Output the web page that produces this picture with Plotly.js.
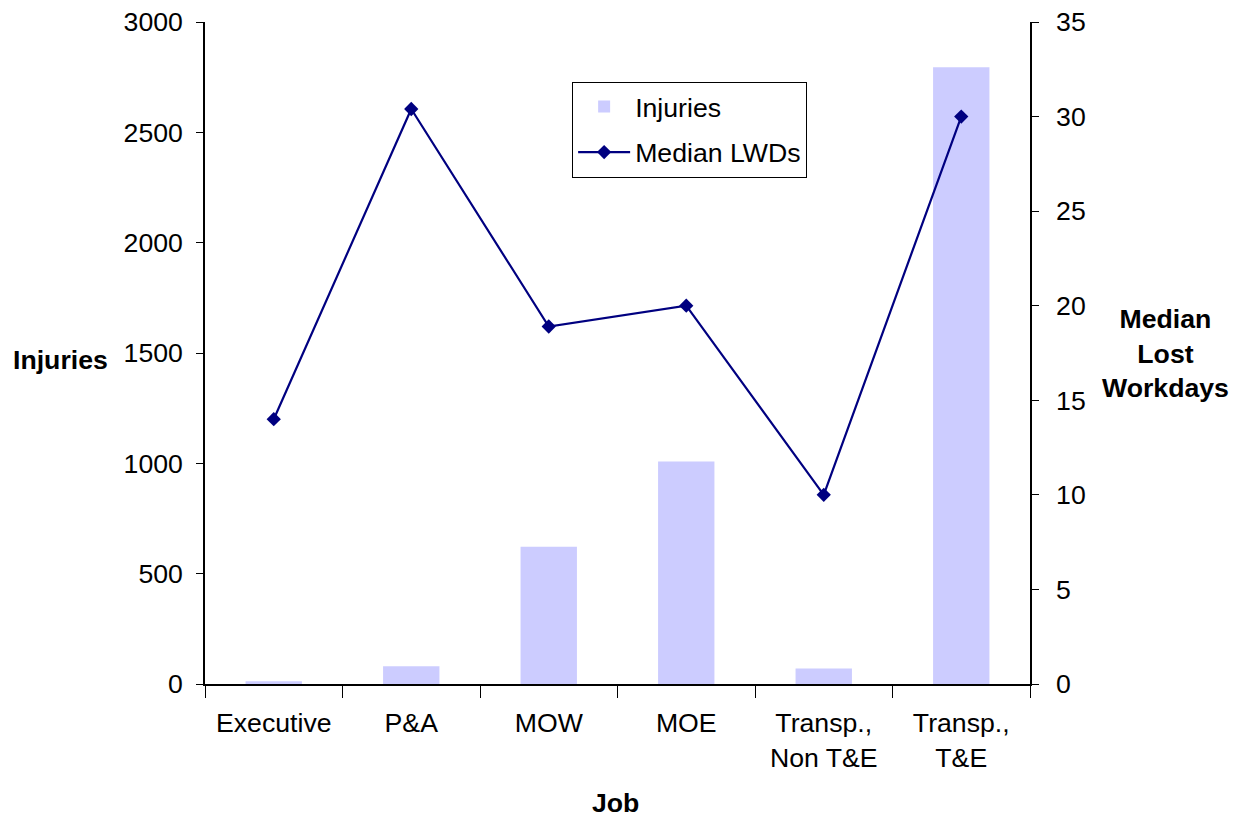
<!DOCTYPE html>
<html><head><meta charset="utf-8">
<script src="https://cdn.plot.ly/plotly-3.0.1.min.js"></script>
<style>body{margin:0;background:#fff}#chart{width:1241px;height:819px}</style>
</head><body><div id="chart"></div>
<script>
const categories = ["Executive", "P&A", "MOW", "MOE", "Transp.,<br>Non T&E", "Transp.,<br>T&E"];
const injuries = [12, 80, 622, 1008, 70, 2795];
const medianLWDs = [14, 30.4, 18.9, 20, 10, 30];
const leftTicks = [0, 500, 1000, 1500, 2000, 2500, 3000];
const rightTicks = [0, 5, 10, 15, 20, 25, 30, 35];

const FS = 26.67;
const font = {family: "Liberation Sans, Arial, sans-serif", color: "#000", size: FS};

const traces = [
  {type: "bar", x: categories, y: injuries, name: "Injuries", marker: {color: "#CCCCFF"}, yaxis: "y", legendgroup: "a"},
  {type: "scatter", mode: "lines+markers", x: categories, y: medianLWDs, name: "Median LWDs", yaxis: "y2", legendgroup: "b",
   line: {color: "#000080", width: 2.2}, marker: {symbol: "diamond", size: 11, color: "#000080"}}
];

const layout = {
  width: 1241, height: 819,
  margin: {l: 205, r: 211, t: 22, b: 135},
  paper_bgcolor: "#fff", plot_bgcolor: "#fff",
  font: font,
  bargap: 0.59,
  showlegend: true,
  legend: {x: 0.445, y: 0.91, xanchor: "left", yanchor: "top", bordercolor: "#000", borderwidth: 1,
           bgcolor: "#fff", font: {size: FS, family: font.family}, tracegroupgap: 8, itemwidth: 52},
  xaxis: {type: "category", showline: true, linecolor: "#000", linewidth: 2, ticks: "outside", ticklen: 12,
          tickcolor: "#000", tickson: "boundaries", showgrid: false, zeroline: false, tickfont: {size: FS},
          ticklabelstandoff: 14},
  yaxis: {range: [0, 3000], tickvals: leftTicks, showline: true, linecolor: "#000", linewidth: 1.5,
          ticks: "outside", ticklen: 7, tickcolor: "#000", showgrid: false, zeroline: false, tickfont: {size: FS},
          ticklabelstandoff: 8},
  yaxis2: {range: [0, 35], tickvals: rightTicks, overlaying: "y", side: "right", showline: true, linecolor: "#000",
           linewidth: 1.5, ticks: "outside", ticklen: 7, tickcolor: "#000", showgrid: false, zeroline: false,
           tickfont: {size: FS}, ticklabelstandoff: 12},
  annotations: [
    {text: "<b>Injuries</b>", xref: "paper", yref: "paper", x: -0.175, y: 0.49, xanchor: "center", yanchor: "middle",
     showarrow: false, font: {size: FS}},
    {text: "<b>Median<br>Lost<br>Workdays</b>", xref: "paper", yref: "paper", x: 1.164, y: 0.5, xanchor: "center",
     yanchor: "middle", showarrow: false, font: {size: FS}},
    {text: "<b>Job</b>", xref: "paper", yref: "paper", x: 0.497, y: -0.18, xanchor: "center", yanchor: "middle",
     showarrow: false, font: {size: FS}}
  ]
};
Plotly.newPlot("chart", traces, layout, {displayModeBar: false});
</script></body></html>
